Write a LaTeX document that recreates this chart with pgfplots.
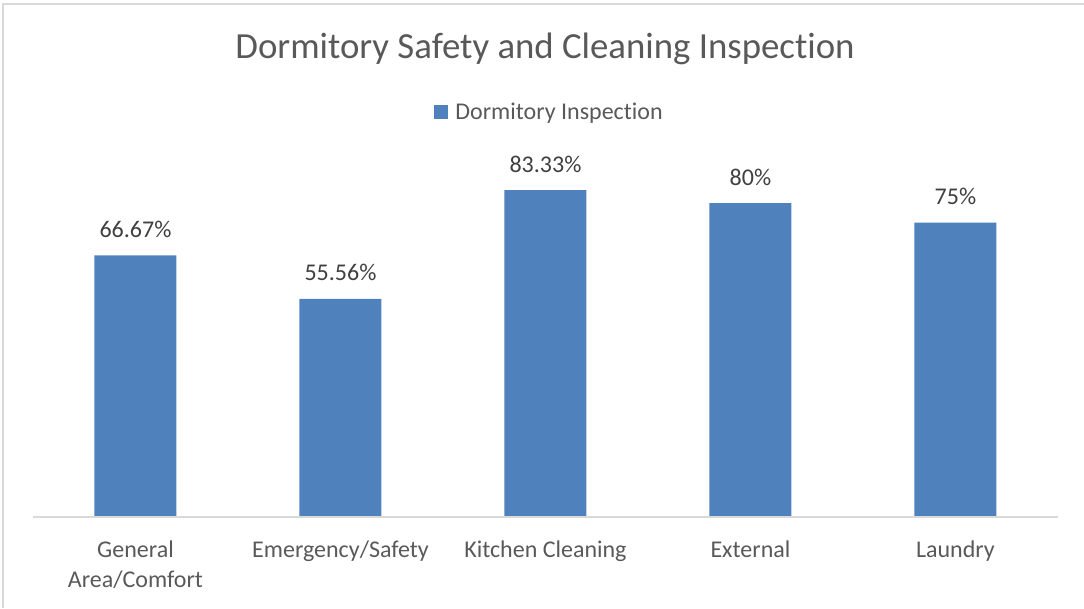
\documentclass[border=0pt]{standalone}
\usepackage{fontspec}
\setmainfont[Ligatures=NoCommon]{Carlito}
\usepackage{pgfplots}
\pgfplotsset{compat=1.18}
\definecolor{barblue}{HTML}{4F81BD}
\definecolor{txtgray}{HTML}{595959}
\definecolor{lblgray}{HTML}{404040}
\definecolor{linegray}{HTML}{D9D9D9}
\begin{document}
\begin{tikzpicture}[x=1pt,y=1pt]
\useasboundingbox (0,0) rectangle (1084,608);
\draw[linegray, line width=1.2pt] (3,0) -- (3,604) -- (1084,604);
\node[anchor=base, text=txtgray, font={\fontsize{36.8}{44}\selectfont}, inner sep=0] at (545,549) {Dormitory Safety and Cleaning Inspection};
\begin{axis}[
  at={(33pt,91pt)}, anchor=south west,
  scale only axis,
  width=1025pt, height=392.4pt,
  xmin=-0.5, xmax=4.5, ymin=0, ymax=100,
  axis line style={draw=none},
  axis x line*=bottom,
  hide y axis,
  ytick=\empty,
  xtick={0,1,2,3,4},
  xticklabels={{General\\Area/Comfort},{Emergency/Safety},{Kitchen Cleaning},{External},{Laundry}},
  major tick length=0pt,
  xticklabel style={font={\fontsize{24}{30}\selectfont}, text=txtgray, align=center, inner sep=0pt, anchor=north, yshift=-24pt},
  ybar, bar width=82pt,
  point meta=explicit symbolic,
  nodes near coords={\pgfplotspointmeta\%},
  every node near coord/.append style={font={\fontsize{24}{30}\selectfont}, text=lblgray, anchor=base, inner sep=0pt, yshift=18pt},
  legend style={at={(0.504,1.032)}, anchor=center, draw=none, fill=none, font={\fontsize{24}{30}\selectfont}, text=txtgray, inner sep=0pt, /tikz/every even column/.append style={column sep=0pt}},
  legend image code/.code={\fill[barblue] (0pt,-7pt) rectangle (14pt,7pt);},
  clip=false,
]
\addplot[fill=barblue, draw=none] coordinates {(0,66.67) [66.67] (1,55.56) [55.56] (2,83.33) [83.33] (3,80) [80] (4,75) [75]};
\addlegendentry{\hspace{5pt}Dormitory Inspection}
\draw[linegray, line width=1.2pt] (axis cs:-0.5,0) -- (axis cs:4.5,0);
\end{axis}
\end{tikzpicture}
\end{document}
